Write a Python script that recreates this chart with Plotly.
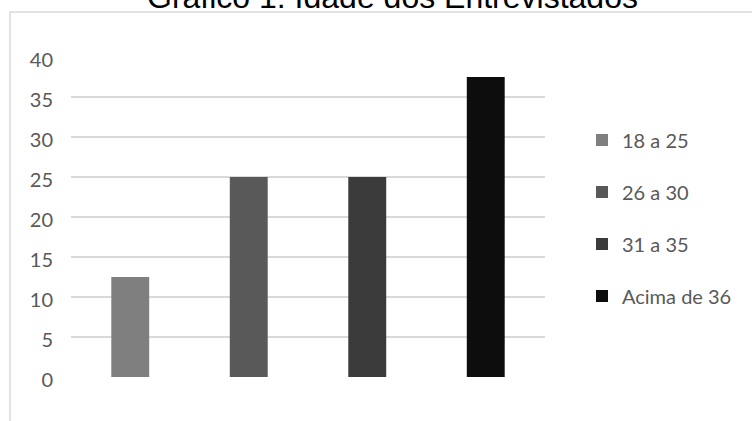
import plotly.graph_objects as go

categories = ["18 a 25", "26 a 30", "31 a 35", "Acima de 36"]
values = [12.5, 25, 25, 37.5]
colors = ["#7f7f7f", "#595959", "#3b3b3b", "#0d0d0d"]
y_ticks = [0, 5, 10, 15, 20, 25, 30, 35, 40]
title_text = "Gráfico 1: Idade dos Entrevistados"

W, H = 752, 421
L, R, T, B = 71, 207, 57, 44
plot_w = W - L - R
plot_h = H - T - B

fig = go.Figure()
for i, (cat, val, col) in enumerate(zip(categories, values, colors)):
    fig.add_trace(go.Bar(
        x=[i], y=[val], name=cat, width=0.32,
        marker=dict(color=col, line=dict(width=0)),
        legendgroup=cat,
    ))

def px_x(px):
    return (px - L) / plot_w

def px_y(py):
    return (H - B - py) / plot_h

fig.update_layout(
    width=W, height=H,
    margin=dict(l=L, r=R, t=T, b=B, pad=0),
    paper_bgcolor="white", plot_bgcolor="white",
    barmode="overlay",
    showlegend=True,
    font=dict(family="Lato, Liberation Sans, sans-serif", color="#595959", size=20),
    legend=dict(
        x=px_x(582), xanchor="left",
        y=px_y(218), yanchor="middle",
        traceorder="grouped", tracegroupgap=23,
        font=dict(size=20, color="#595959"),
        bgcolor="rgba(0,0,0,0)",
    ),
    xaxis=dict(
        range=[-0.5, len(categories) - 0.5],
        showticklabels=False, showgrid=False, zeroline=False,
        showline=False, ticks="", fixedrange=True,
    ),
    yaxis=dict(
        range=[0, 40], tickvals=y_ticks,
        showgrid=True, gridcolor="#d9d9d9", gridwidth=1.5,
        zeroline=False, showline=False, ticks="",
        ticklabelstandoff=17, ticklabelshift=3,
        tickfont=dict(size=20, color="#595959"),
    ),
    shapes=[dict(
        type="rect", xref="paper", yref="paper",
        x0=px_x(10), x1=px_x(770), y0=px_y(440), y1=px_y(12),
        line=dict(color="#d9d9d9", width=1.5), fillcolor="rgba(0,0,0,0)",
        layer="below",
    )],
    annotations=[dict(
        text=title_text, xref="paper", yref="paper",
        x=px_x(392), y=px_y(17), xanchor="center", yanchor="bottom",
        showarrow=False,
        font=dict(family="Liberation Sans, Arial, sans-serif", size=32, color="#000000"),
    )],
)

fig.write_html("out.html")
